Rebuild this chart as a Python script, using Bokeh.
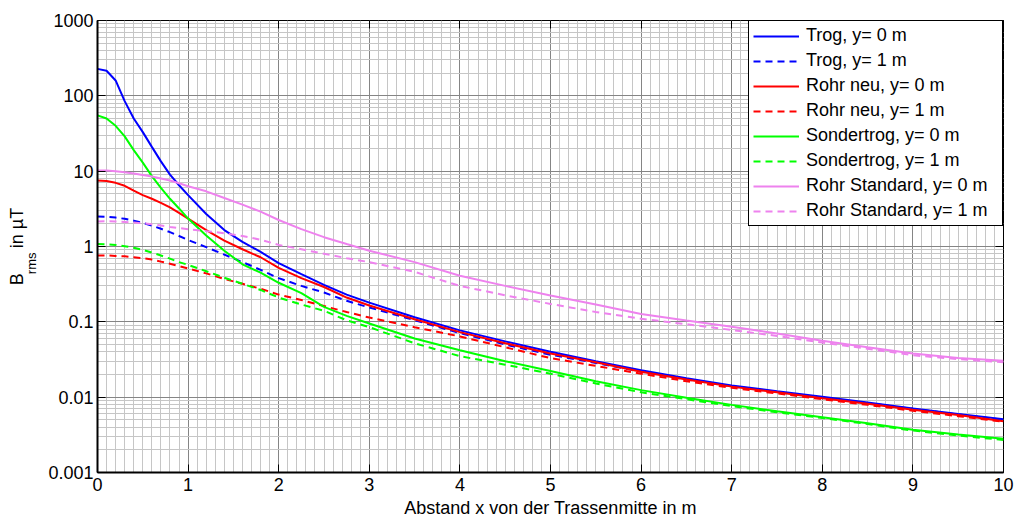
import math
from bokeh.plotting import figure
from bokeh.models import (Range1d, FixedTicker, SingleIntervalTicker, CustomJSTickFormatter,
                          LinearAxis, LogAxis)
from bokeh.embed import file_html
from bokeh.resources import INLINE

# ---------------- data ----------------
x_m = [0, 0.1, 0.2, 0.3, 0.4, 0.5, 0.6, 0.7, 0.8, 0.9, 1.0, 1.2, 1.4, 1.6, 1.8, 2.0,
       2.25, 2.5, 2.75, 3.0, 3.5, 4.0, 4.5, 5.0, 5.5, 6.0, 6.5, 7.0, 7.5, 8.0, 8.5,
       9.0, 9.5, 10.0]

trog_y0 = [228, 215, 160, 85, 50, 33, 21, 13.5, 9.0, 6.5, 4.8, 2.7, 1.65, 1.15, 0.85, 0.60,
           0.43, 0.31, 0.23, 0.18, 0.115, 0.077, 0.055, 0.040, 0.030, 0.0228, 0.0178, 0.0143,
           0.0120, 0.0101, 0.0085, 0.0071, 0.0060, 0.0051]
trog_y1 = [2.5, 2.48, 2.42, 2.33, 2.2, 2.05, 1.9, 1.72, 1.55, 1.38, 1.22, 0.98, 0.78, 0.62,
           0.49, 0.38, 0.30, 0.245, 0.19, 0.155, 0.105, 0.071, 0.050, 0.0365, 0.0285, 0.0218,
           0.0172, 0.0139, 0.0117, 0.0098, 0.0083, 0.0070, 0.0059, 0.0050]
rohr_neu_y0 = [7.5, 7.4, 7.0, 6.4, 5.5, 4.8, 4.3, 3.8, 3.3, 2.8, 2.35, 1.65, 1.2, 0.92, 0.72,
               0.52, 0.38, 0.29, 0.21, 0.165, 0.108, 0.073, 0.052, 0.038, 0.029, 0.0218,
               0.0172, 0.0138, 0.0116, 0.0097, 0.0082, 0.0068, 0.0058, 0.0048]
rohr_neu_y1 = [0.76, 0.76, 0.75, 0.74, 0.72, 0.70, 0.67, 0.63, 0.59, 0.55, 0.51, 0.44, 0.37,
               0.32, 0.275, 0.23, 0.195, 0.162, 0.135, 0.114, 0.085, 0.064, 0.046, 0.033,
               0.026, 0.0205, 0.0163, 0.0133, 0.0112, 0.0094, 0.0079, 0.0066, 0.0056, 0.0047]
sondertrog_y0 = [55, 50, 40, 29, 19, 13, 8.6, 6.0, 4.3, 3.2, 2.35, 1.4, 0.88, 0.58, 0.45,
                 0.33, 0.24, 0.158, 0.12, 0.095, 0.060, 0.042, 0.030, 0.0223, 0.0163, 0.0124,
                 0.0098, 0.0079, 0.0065, 0.0054, 0.0045, 0.0037, 0.0032, 0.0028]
sondertrog_y1 = [1.08, 1.07, 1.05, 1.01, 0.96, 0.90, 0.83, 0.76, 0.69, 0.62, 0.57, 0.47,
                 0.385, 0.32, 0.265, 0.21, 0.17, 0.14, 0.105, 0.085, 0.052, 0.035, 0.027,
                 0.0205, 0.0152, 0.0116, 0.0094, 0.0076, 0.0063, 0.0053, 0.0044, 0.0036,
                 0.0031, 0.0027]
rohr_std_y0 = [10.2, 10.2, 10.0, 9.7, 9.3, 8.9, 8.5, 8.0, 7.5, 6.9, 6.3, 5.4, 4.4, 3.6, 2.9,
               2.25, 1.7, 1.33, 1.08, 0.88, 0.62, 0.41, 0.30, 0.223, 0.17, 0.127, 0.104,
               0.086, 0.07, 0.056, 0.046, 0.038, 0.033, 0.0305]
rohr_std_y1 = [2.15, 2.16, 2.15, 2.12, 2.08, 2.03, 1.97, 1.9, 1.82, 1.76, 1.7, 1.6, 1.5, 1.38,
               1.23, 1.05, 0.92, 0.80, 0.70, 0.62, 0.46, 0.30, 0.225, 0.173, 0.135, 0.11,
               0.093, 0.078, 0.065, 0.053, 0.044, 0.036, 0.032, 0.029]

series = [
    ("Trog, y= 0 m", trog_y0, "#0000ff", "solid"),
    ("Trog, y= 1 m", trog_y1, "#0000ff", "dashed"),
    ("Rohr neu, y= 0 m", rohr_neu_y0, "#ff0000", "solid"),
    ("Rohr neu, y= 1 m", rohr_neu_y1, "#ff0000", "dashed"),
    ("Sondertrog, y= 0 m", sondertrog_y0, "#00ff00", "solid"),
    ("Sondertrog, y= 1 m", sondertrog_y1, "#00ff00", "dashed"),
    ("Rohr Standard, y= 0 m", rohr_std_y0, "#ee82ee", "solid"),
    ("Rohr Standard, y= 1 m", rohr_std_y1, "#ee82ee", "dashed"),
]

y_major = [0.001, 0.01, 0.1, 1, 10, 100, 1000]
x_title = "Abstand x von der Trassenmitte in m"
y_title_main = "B\u00a0\u00a0\u00a0\u00a0\u00a0in µT"   # gap holds the subscript
y_title_sub = "rms"

FONT = "Liberation Sans"

# ---------------- figure ----------------
p = figure(width=1015, height=521, y_axis_type="log",
           x_range=Range1d(0, 10), y_range=Range1d(0.001, 1000),
           output_backend="svg", toolbar_location=None,
           min_border_left=97, min_border_right=12, min_border_top=20, min_border_bottom=49,
           background_fill_color="white", border_fill_color="white")
p.outline_line_color = "black"
p.outline_line_width = 1

y_minor = [m * 10.0 ** e for e in range(-3, 3) for m in range(2, 10)]

def xticker():
    return SingleIntervalTicker(interval=1, num_minor_ticks=10)

def yticker():
    return FixedTicker(ticks=y_major, minor_ticks=y_minor)

p.xaxis.ticker = xticker()
p.yaxis.ticker = yticker()
p.xgrid.ticker = xticker()
p.ygrid.ticker = yticker()
p.yaxis.formatter = CustomJSTickFormatter(code="return tick.toString();")

for g in (p.xgrid, p.ygrid):
    g.grid_line_color = "#858585"
    g.grid_line_width = 1
    g.minor_grid_line_color = "#c6c6c6"
    g.minor_grid_line_width = 1

for ax in (p.xaxis, p.yaxis):
    ax.major_label_text_font = FONT
    ax.major_label_text_font_size = "18px"
    ax.major_label_text_color = "black"
    ax.major_tick_in = 8
    ax.major_tick_out = 0
    ax.minor_tick_in = 0
    ax.minor_tick_out = 0
    ax.axis_line_color = "black"
    ax.axis_line_width = 2
    ax.major_tick_line_color = "black"
p.xaxis.major_label_standoff = 5
p.yaxis.major_label_standoff = 4

p.xaxis.axis_label = x_title
p.xaxis.axis_label_standoff = 4
p.xaxis.axis_label_text_font = FONT
p.xaxis.axis_label_text_font_size = "18px"
p.xaxis.axis_label_text_font_style = "normal"
p.xaxis.axis_label_text_color = "black"

# y title: subscript as a single tick label, main text as the axis label of an extra axis
rms_pos = 0.832  # vertical placement of the subscript (layout only)
ylab = LogAxis(ticker=FixedTicker(ticks=[rms_pos], minor_ticks=[]),
               formatter=CustomJSTickFormatter(code="return 'rms';"),
               major_tick_in=0, major_tick_out=0, minor_tick_in=0, minor_tick_out=0,
               axis_line_color=None, major_label_orientation=math.pi / 2,
               major_label_standoff=14, major_label_text_font=FONT,
               major_label_text_font_size="13px", major_label_text_color="black",
               axis_label=y_title_main, axis_label_standoff=-13,
               axis_label_text_font=FONT, axis_label_text_font_size="18px",
               axis_label_text_font_style="normal", axis_label_text_color="black")
p.add_layout(ylab, "left")

top = LinearAxis(ticker=xticker(), formatter=CustomJSTickFormatter(code="return '';"),
                 major_tick_in=8, major_tick_out=0, minor_tick_in=0, minor_tick_out=0,
                 major_label_text_font_size="0px", axis_line_color=None,
                 major_tick_line_color="black")
p.add_layout(top, "above")
right = LogAxis(ticker=yticker(), formatter=CustomJSTickFormatter(code="return '';"),
                major_tick_in=8, major_tick_out=0, minor_tick_in=0, minor_tick_out=0,
                major_label_text_font_size="0px", axis_line_color=None,
                major_tick_line_color="black")
p.add_layout(right, "right")

for name, vals, color, dash in series:
    p.line(x_m, vals, line_color=color, line_width=2,
           line_dash=("7 5" if dash == "dashed" else "solid"), legend_label=name)

leg = p.legend[0]
leg.location = "top_right"
leg.margin = 0
leg.padding = 4
leg.spacing = 4
leg.label_height = 20
leg.glyph_height = 20
leg.glyph_width = 46
leg.label_standoff = 7
leg.label_width = 192
leg.label_text_font = FONT
leg.label_text_font_size = "18px"
leg.label_text_color = "black"
leg.border_line_color = "black"
leg.border_line_width = 1
leg.border_line_alpha = 1
leg.background_fill_color = "white"
leg.background_fill_alpha = 1

open("out.html", "w").write(file_html(p, INLINE))
